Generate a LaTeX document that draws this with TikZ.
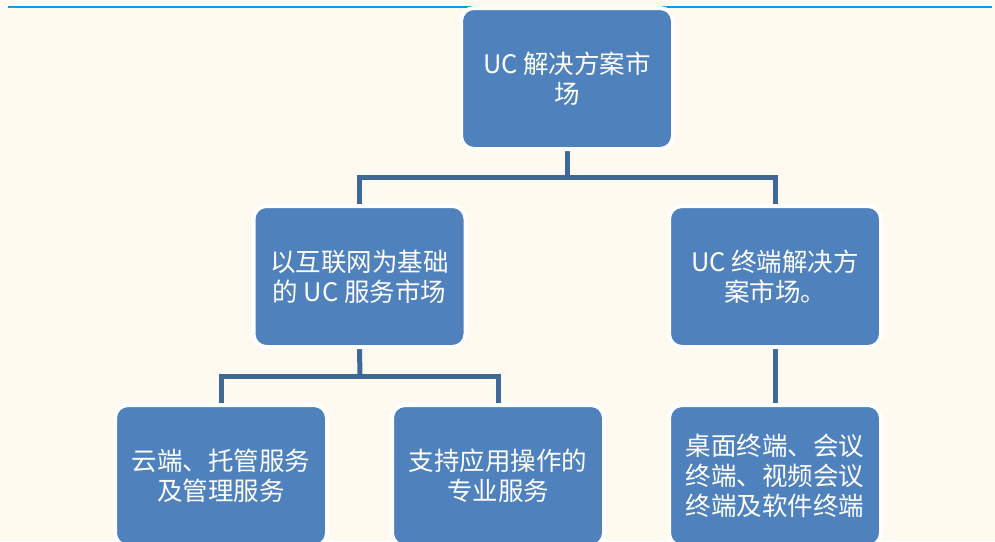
\documentclass[tikz,border=0pt]{standalone}
\usepackage{fontspec}
\setmainfont{Noto Sans CJK SC}
\usetikzlibrary{backgrounds}
\definecolor{bgcream}{HTML}{FFFAEF}
\definecolor{boxblue}{HTML}{4F81BD}
\definecolor{linkblue}{HTML}{3F6797}
\definecolor{topblue}{HTML}{00A0E9}
\tikzset{
  ucbox/.style={rectangle, rounded corners=13pt, fill=boxblue, draw=white, line width=4pt,
    minimum width=212pt, minimum height=141pt, inner sep=0pt, align=center, text=white,
    font=\fontsize{25.5pt}{30pt}\selectfont},
  link/.style={draw=linkblue, line width=5pt, line join=miter},
  topline/.style={draw=topblue, line width=2pt}
}
\begin{document}
\begin{tikzpicture}[x=1pt,y=-1pt]
\useasboundingbox (0,0) rectangle (995,541);
\clip (0,0) rectangle (995,541);
\node[ucbox] (top) at (567,78.5) {UC 解决方案市\\场};
\node[ucbox] (m1) at (359.5,276.5) {以互联网为基础\\的 UC 服务市场};
\node[ucbox] (m2) at (775,276.5) {UC 终端解决方\\案市场。};
\node[ucbox] (b1) at (221,475.5) {云端、托管服务\\及管理服务};
\node[ucbox] (b2) at (498,475.5) {支持应用操作的\\专业服务};
\node[ucbox] (b3) at (775,475.5) {桌面终端、会议\\终端、视频会议\\终端及软件终端};
\coordinate (h1) at (567,177);
\coordinate (h2) at (360,376);
\begin{pgfonlayer}{background}
\fill[bgcream] (0,0) rectangle (995,541);
\draw[topline] (8,7) -- (992,7);
\draw[link] (top.south) -- (h1);
\draw[link] (m1.north) |- (h1) -| (m2.north);
\draw[link] (m1.south) -- (h2);
\draw[link] (b1.north) |- (h2) -| (b2.north);
\draw[link] (m2.south) -- (b3.north);
\end{pgfonlayer}
\end{tikzpicture}
\end{document}
